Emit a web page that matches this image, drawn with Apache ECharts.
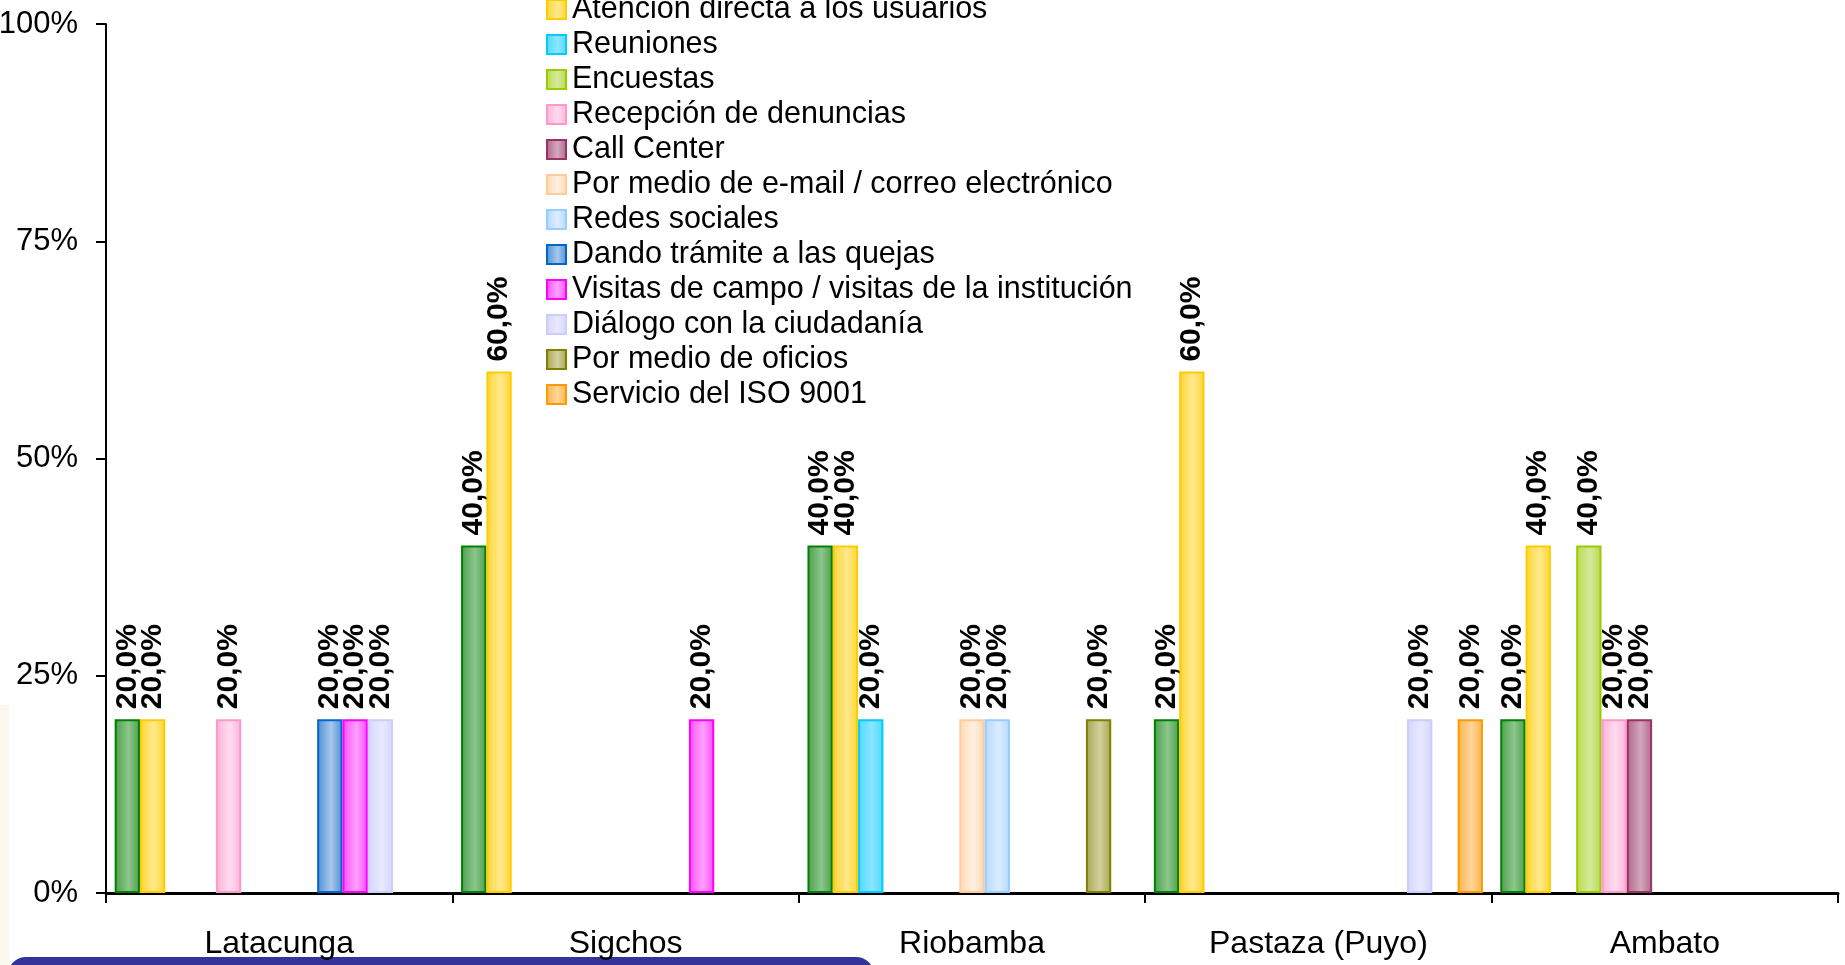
<!DOCTYPE html>
<html>
<head>
<meta charset="utf-8">
<script src="https://cdn.jsdelivr.net/npm/echarts@6/dist/echarts.min.js"></script>
<style>
html,body{margin:0;padding:0;background:#fff;}
#chart{width:1845px;height:965px;}
</style>
</head>
<body>
<div id="chart"></div>
<script>
var categories = ['Latacunga', 'Sigchos', 'Riobamba', 'Pastaza (Puyo)', 'Ambato'];
var yTicks = [0, 25, 50, 75, 100];

var seriesNames = [
  'Serie 1',
  'Atención directa a los usuarios',
  'Reuniones',
  'Encuestas',
  'Recepción de denuncias',
  'Call Center',
  'Por medio de e-mail / correo electrónico',
  'Redes sociales',
  'Dando trámite a las quejas',
  'Visitas de campo / visitas de la institución',
  'Diálogo con la ciudadanía',
  'Por medio de oficios',
  'Servicio del ISO 9001'
];

var serie1      = [20, 40, 40, 20, 20];
var atencion    = [20, 60, 40, 60, 40];
var reuniones   = [null, null, 20, null, null];
var encuestas   = [null, null, null, null, 40];
var denuncias   = [20, null, null, null, 20];
var callCenter  = [null, null, null, null, 20];
var email       = [null, null, 20, null, null];
var redes       = [null, null, 20, null, null];
var quejas      = [20, null, null, null, null];
var visitas     = [20, 20, null, null, null];
var dialogo     = [20, null, null, 20, null];
var oficios     = [null, null, 20, null, null];
var iso         = [null, null, null, 20, null];

var seriesValues = [serie1, atencion, reuniones, encuestas, denuncias, callCenter,
  email, redes, quejas, visitas, dialogo, oficios, iso];

// [border, mid, light]
var palette = [
  ['#008000', '#4d9f4d', '#8cc68c'],
  ['#FFCC00', '#ffd633', '#ffe98c'],
  ['#00CCFF', '#4dd9ff', '#8ce6ff'],
  ['#99CC00', '#b8db4d', '#d4e99a'],
  ['#FF99CC', '#ffb3d9', '#ffdcee'],
  ['#993366', '#b06688', '#d2a8bc'],
  ['#FFCC99', '#ffdab3', '#fff0e3'],
  ['#99CCFF', '#b3d9ff', '#dcedff'],
  ['#0066CC', '#4d8fd6', '#a8c8ea'],
  ['#FF00FF', '#ff4dff', '#ffa0ff'],
  ['#CCCCFF', '#d6d6ff', '#e8e8ff'],
  ['#808000', '#a6a64d', '#d3d0a0'],
  ['#FF9900', '#ffb34d', '#ffd699']
];

var FONT = "'Liberation Sans', Arial, sans-serif";

var series = seriesNames.map(function (name, i) {
  var c = palette[i];
  return {
    name: name,
    type: 'bar',
    data: seriesValues[i],
    barGap: '0%',
    barCategoryGap: '5%',
    itemStyle: {
      color: {
        type: 'linear', x: 0, y: 0, x2: 1, y2: 0,
        colorStops: [
          {offset: 0, color: c[1]},
          {offset: 0.55, color: c[2]},
          {offset: 1, color: c[1]}
        ]
      },
      borderColor: c[0],
      borderWidth: 2
    },
    label: {
      show: true,
      position: 'top',
      rotate: 90,
      align: 'left',
      verticalAlign: 'middle',
      distance: 10,
      fontFamily: FONT,
      fontWeight: 'bold',
      fontSize: 30,
      color: '#000',
      formatter: function (p) {
        return p.value.toFixed(1).replace('.', ',') + '%';
      }
    }
  };
});

var chart = echarts.init(document.getElementById('chart'));
chart.setOption({
  animation: false,
  backgroundColor: '#fff',
  textStyle: {fontFamily: FONT},
  grid: {left: 106, right: 7, top: 24, bottom: 72, containLabel: false, outerBoundsMode: 'none'},
  legend: {
    orient: 'vertical',
    left: 541,
    top: -11,
    data: seriesNames.slice(1),
    icon: 'rect',
    itemWidth: 19,
    itemHeight: 19,
    itemGap: 4,
    textStyle: {fontFamily: FONT, fontSize: 30.5, color: '#000', lineHeight: 30, padding: [0, 0, 0, 1]}
  },
  xAxis: {
    type: 'category',
    data: categories,
    axisLine: {lineStyle: {color: '#000', width: 3}},
    axisTick: {show: true, length: 10, lineStyle: {color: '#000', width: 2}},
    axisLabel: {fontFamily: FONT, fontSize: 32, color: '#000', margin: 35},
    splitLine: {show: false}
  },
  yAxis: {
    type: 'value',
    min: yTicks[0],
    max: yTicks[yTicks.length - 1],
    interval: yTicks[1] - yTicks[0],
    axisLine: {show: true, lineStyle: {color: '#000', width: 2}},
    axisTick: {show: true, length: 10, lineStyle: {color: '#000', width: 2}},
    axisLabel: {fontFamily: FONT, fontSize: 31, color: '#000', margin: 28, formatter: '{value}%'},
    splitLine: {show: false}
  },
  graphic: [
    {
      type: 'rect',
      left: 0, top: 705,
      shape: {width: 9, height: 260},
      style: {fill: '#fbf9ee'},
      silent: true, z: -1
    },
    {
      type: 'rect',
      left: 8, top: 957,
      shape: {width: 866, height: 40, r: 18},
      style: {fill: '#333399'},
      silent: true
    }
  ],
  series: series
});
</script>
</body>
</html>
